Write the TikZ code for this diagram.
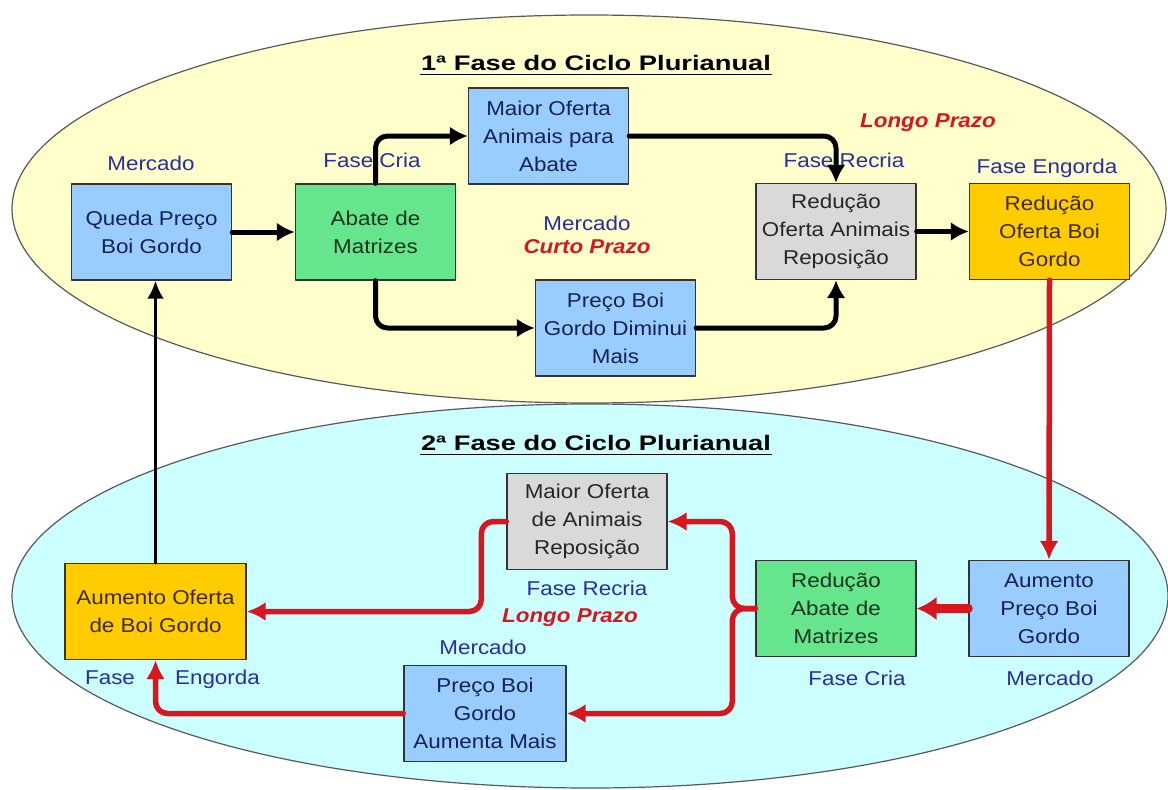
\documentclass[tikz,border=0pt]{standalone}
\usepackage{fontspec}
\setmainfont{Liberation Sans}[FakeStretch=1.12]
\newfontfamily\titlefont{Liberation Sans}[FakeStretch=1.3]
\usetikzlibrary{arrows.meta}

\definecolor{cream}{RGB}{255,255,204}
\definecolor{skyfill}{RGB}{204,255,255}
\definecolor{boxblue}{RGB}{153,204,255}
\definecolor{boxgreen}{RGB}{102,230,140}
\definecolor{boxgray}{RGB}{217,217,217}
\definecolor{boxgold}{RGB}{255,204,0}
\definecolor{txtblue}{RGB}{22,34,80}
\definecolor{txtgreen}{RGB}{24,52,30}
\definecolor{txtgray}{RGB}{38,38,38}
\definecolor{txtgold}{RGB}{62,42,0}
\definecolor{lblblue}{RGB}{40,45,165}
\definecolor{arrred}{RGB}{215,22,30}

\begin{document}
\begin{tikzpicture}[line cap=round,line join=round,x=1pt,y=-1pt,
  box/.style={draw=black!80, line width=1.4pt, minimum width=160pt, minimum height=96pt,
    align=center, inner sep=2pt, font=\fontsize{20}{28}\selectfont},
  lbl/.style={text=lblblue, font=\fontsize{20}{24}\selectfont},
  prazo/.style={text=arrred, font=\fontsize{20}{24}\selectfont\bfseries\itshape},
  ttl/.style={inner sep=0pt, font=\titlefont\fontsize{21}{24}\selectfont\bfseries},
  blackarr/.style={line width=5pt, rounded corners=12pt, -{Latex[length=18pt,width=19pt]}},
  redarr/.style={draw=arrred, line width=5.5pt, rounded corners=12pt, -{Latex[length=19pt,width=19pt]}}]
\useasboundingbox (0,0) rectangle (1168,790);
% the two phases
\draw[fill=cream, draw=black!65, line width=1.2pt] (589,209) ellipse [x radius=577, y radius=194];
\draw[fill=skyfill, draw=black!65, line width=1.2pt] (590,596) ellipse [x radius=578, y radius=192];
\node[ttl] (t1) at (596,63) {1ª Fase do Ciclo Plurianual};
\draw[line width=1.8pt] ([yshift=-4pt]t1.base west) -- ([yshift=-4pt]t1.base east);
\node[ttl] (t2) at (596,443) {2ª Fase do Ciclo Plurianual};
\draw[line width=1.8pt] ([yshift=-4pt]t2.base west) -- ([yshift=-4pt]t2.base east);
% first phase
\node[box, fill=boxblue, text=txtblue] (queda) at (151.5,232) {Queda Preço\\Boi Gordo};
\node[box, fill=boxgreen, text=txtgreen] (abate) at (375.5,232) {Abate de\\Matrizes};
\node[box, fill=boxblue, text=txtblue] (maior) at (548.5,136) {Maior Oferta\\Animais para\\Abate};
\node[box, fill=boxblue, text=txtblue] (precoD) at (615.5,328) {Preço Boi\\Gordo Diminui\\Mais};
\node[box, fill=boxgray, text=txtgray] (repos) at (836,231.5) {Redução\\Oferta Animais\\Reposição};
\node[box, fill=boxgold, text=txtgold] (reduc) at (1049.5,231.5) {Redução\\Oferta Boi\\Gordo};
\node[lbl] (merc1) at (151,163) {Mercado};
\node[lbl] (cria1) at (372,160) {Fase Cria};
\node[lbl] (recria1) at (844,160) {Fase Recria};
\node[lbl] (engorda1) at (1047,168) {Fase Engorda};
\node[prazo] (longo1) at (928,123) {Longo Prazo};
\node[lbl] (merc2) at (587,223) {Mercado};
\node[prazo] (curto) at (587,247) {Curto Prazo};
% second phase
\node[box, fill=boxgold, text=txtgold, minimum width=181pt] (aumof) at (155.5,611.5) {Aumento Oferta\\de Boi Gordo};
\node[box, fill=boxgray, text=txtgray] (maior2) at (587,521.5) {Maior Oferta\\de Animais\\Reposição};
\node[box, fill=boxgreen, text=txtgreen] (abate2) at (836,608.5) {Redução\\Abate de\\Matrizes};
\node[box, fill=boxblue, text=txtblue] (aumpr) at (1049,608.5) {Aumento\\Preço Boi\\Gordo};
\node[box, fill=boxblue, text=txtblue, minimum width=162pt] (precoA) at (485,713.5) {Preço Boi\\Gordo\\Aumenta Mais};
\node[lbl] (recria2) at (587,588) {Fase Recria};
\node[prazo] (longo2) at (570,618) {Longo Prazo};
\node[lbl] (merc3) at (483,647) {Mercado};
\node[lbl] (engorda2) at (172.5,679) {Fase\hspace{34pt} Engorda};
\node[lbl] (cria2) at (857,678) {Fase Cria};
\node[lbl] (merc4) at (1050,678) {Mercado};
% connectors
\draw[blackarr] (queda.east) -- (abate.west);
\draw[blackarr] (abate.north) |- (maior.west);
\draw[blackarr] (maior.east) -| (repos.north);
\draw[blackarr] (abate.south) |- (precoD.west);
\draw[blackarr] (precoD.east) -| (repos.south);
\draw[blackarr] (repos.east) -- (reduc.west);
\draw[redarr] (reduc.south) -- (aumpr.north);
\draw[redarr, line width=9pt, -{Latex[length=20pt,width=24pt]}] (aumpr.west) -- (abate2.east);
\draw[redarr] (abate2.west) -- ++(-23,0) |- (maior2.east);
\draw[redarr] (abate2.west) -- ++(-23,0) |- (precoA.east);
\draw[redarr] (maior2.west) -- ++(-25,0) |- (aumof.east);
\draw[redarr] (precoA.west) -| (aumof.south);
\draw[line width=3.5pt, -{Latex[length=18pt,width=17pt]}] (aumof.north) -- (aumof.north |- queda.south);
\end{tikzpicture}
\end{document}
